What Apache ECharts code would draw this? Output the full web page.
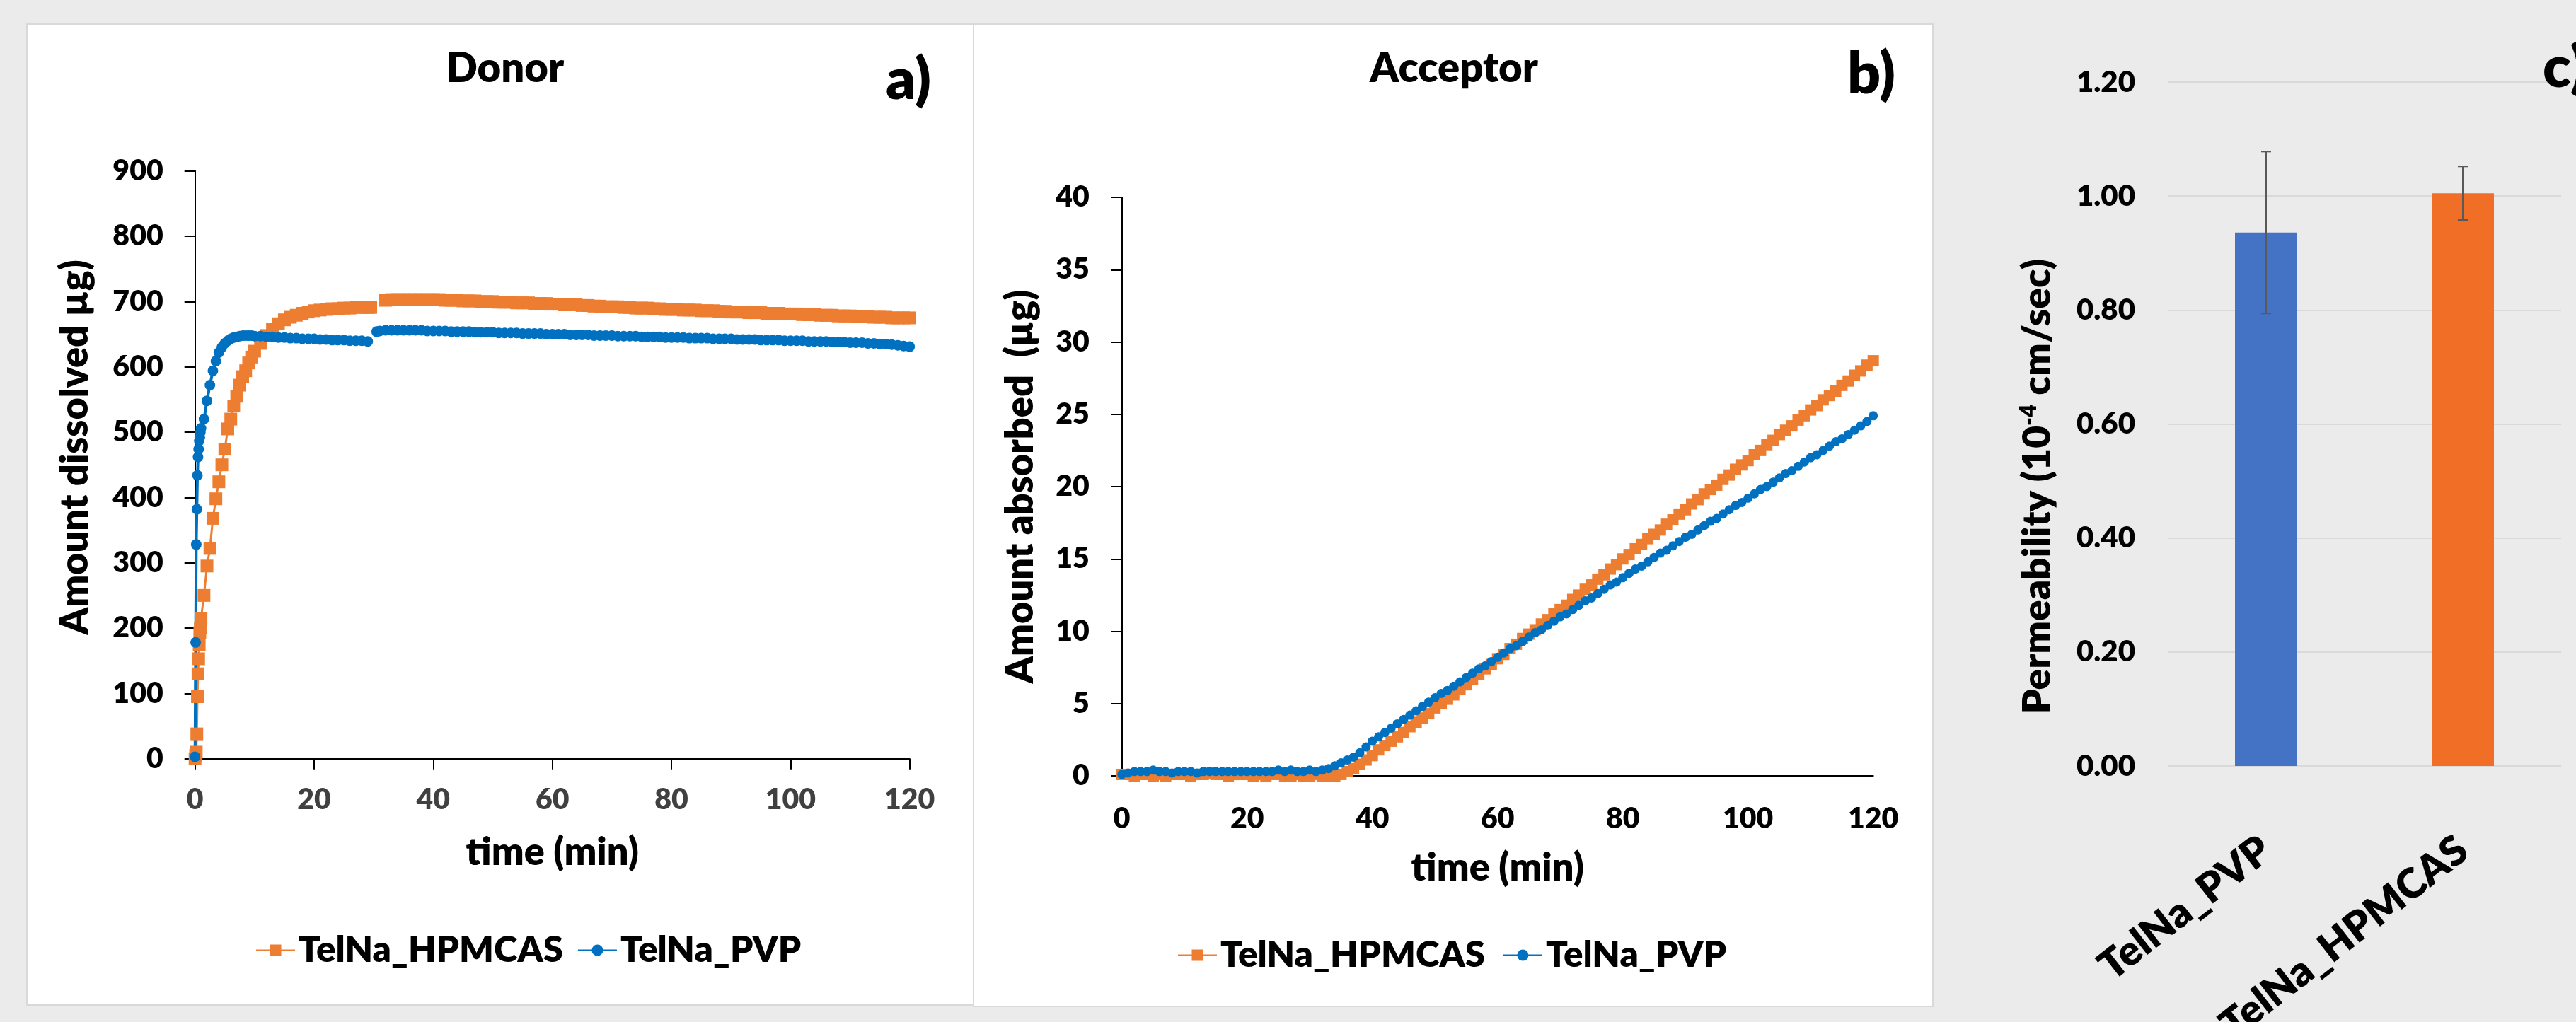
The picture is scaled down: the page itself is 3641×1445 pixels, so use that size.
<!DOCTYPE html>
<html><head><meta charset="utf-8">
<script src="https://cdn.jsdelivr.net/npm/echarts@6/dist/echarts.min.js"></script>
<style>
html,body{margin:0;padding:0;background:#ebebeb;}
#wrap{position:relative;width:3641px;height:1445px;overflow:hidden;background:#ebebeb;}
.panel{position:absolute;background:#fff;border:2px solid #d9d9d9;box-sizing:border-box;}
#chart{position:absolute;left:0;top:0;width:3641px;height:1445px;}
</style></head><body>
<div id="wrap">
<div class="panel" style="left:37px;top:33px;width:1340px;height:1389px;"></div>
<div class="panel" style="left:1375px;top:33px;width:1358px;height:1391px;"></div>
<div id="chart"></div>
</div>
<script>
// ---------- Panel a: Donor ----------
const donorTime = [0,0.1,0.2,0.3,0.4,0.5,0.6,0.7,0.8,0.9,1,
1.5,2,2.5,3,3.5,4,4.5,5,5.5,6,6.5,7,7.5,8,8.5,9,9.5,10,
11,12,13,14,15,16,17,18,19,20,21,22,23,24,25,26,27,28,29,
29.5,30.5,31,
32,33,34,35,36,37,38,39,40,41,42,43,44,45,46,47,48,49,50,51,52,53,54,55,56,57,58,59,60,61,62,63,64,65,66,67,68,69,70,71,72,73,74,75,76,77,78,79,80,81,82,83,84,85,86,87,88,89,90,91,92,93,94,95,96,97,98,99,100,101,102,103,104,105,106,107,108,109,110,111,112,113,114,115,116,117,118,119,120];
const donorHPMCAS = [0,5,10,38,95,130,153,175,193,200,215,
250,295,322,368,398,424,450,474,505,520,540,555,572,585,594,606,615,624,
636,648,658,666,672,676,679,682,684,686,687,688,689,689,690,690,691,691,691,
691,null,null,
702,703,703,703,703,703,703,703,703,703,
702,702,702,701,701,701,700,700,700,699,
699,699,698,698,698,697,697,697,696,696,
695,695,695,694,694,693,693,692,692,692,
691,691,690,690,690,689,689,688,688,688,
687,687,687,686,686,686,685,685,684,684,
684,683,683,683,682,682,682,681,681,681,
680,680,680,679,679,679,678,678,678,677,
677,677,676,676,676,675,675,675,675];
const donorPVP = [3,178,328,382,434,462,474,487,492,500,506,
520,548,572,594,609,622,630,636,640,643,645,646,647,648,648,648,648,647,
647,646,646,645,645,644,644,643,643,643,642,642,641,641,641,640,640,640,639,
null,654,655,
656,656,656,656,656,656,656,655,655,655,
655,654,654,654,654,653,653,653,653,652,
652,652,652,651,651,651,651,650,650,650,
650,649,649,649,649,648,648,648,648,647,
647,647,647,646,646,646,646,645,645,645,
645,644,644,644,644,643,643,643,643,642,
642,642,642,641,641,641,641,640,640,640,
640,639,639,639,639,638,638,638,637,637,
637,636,636,635,635,634,633,632,631];

// ---------- Panel b: Acceptor ----------
const accTime = [0,1,2,3,4,5,6,7,8,9,10,11,12,13,14,15,16,17,18,19,20,21,22,23,24,25,26,27,28,29,30,31,32,33,34,35,36,37,38,39,40,41,42,43,44,45,46,47,48,49,50,51,52,53,54,55,56,57,58,59,60,61,62,63,64,65,66,67,68,69,70,71,72,73,74,75,76,77,78,79,80,81,82,83,84,85,86,87,88,89,90,91,92,93,94,95,96,97,98,99,100,101,102,103,104,105,106,107,108,109,110,111,112,113,114,115,116,117,118,119,120];
const accHPMCAS = [0.1,0.1,0.0,0.1,0.1,0.0,0.1,0.0,0.1,0.1,
0.1,0.0,0.1,0.1,0.2,0.1,0.1,0.0,0.1,0.1,
0.1,0.0,0.1,0.0,0.1,0.1,0.0,0.0,0.1,0.0,
0.0,0.1,0.0,0.0,0.0,0.1,0.3,0.5,0.8,1.1,
1.4,1.8,2.1,2.4,2.7,3.0,3.4,3.7,4.0,4.3,
4.7,5.0,5.3,5.6,6.0,6.3,6.7,7.0,7.4,7.7,
8.1,8.4,8.8,9.1,9.5,9.8,10.1,10.5,10.8,11.2,
11.5,11.8,12.2,12.5,12.9,13.2,13.6,13.9,14.3,14.6,
15.0,15.3,15.7,16.0,16.4,16.7,17.0,17.4,17.7,18.1,
18.4,18.8,19.1,19.5,19.8,20.1,20.5,20.8,21.2,21.5,
21.8,22.2,22.5,22.9,23.2,23.6,23.9,24.2,24.6,24.9,
25.3,25.6,26.0,26.3,26.6,27.0,27.3,27.7,28.0,28.4,
28.7];
const accPVP = [0.1,0.2,0.3,0.3,0.3,0.4,0.3,0.3,0.2,0.3,
0.3,0.3,0.2,0.3,0.3,0.3,0.3,0.3,0.3,0.3,
0.3,0.3,0.3,0.3,0.3,0.4,0.3,0.4,0.3,0.3,
0.4,0.3,0.4,0.5,0.7,0.9,1.1,1.3,1.6,2.0,
2.4,2.7,3.0,3.3,3.6,3.9,4.2,4.5,4.8,5.1,
5.4,5.7,5.9,6.2,6.5,6.8,7.1,7.4,7.6,7.9,
8.2,8.5,8.8,9.0,9.3,9.6,9.9,10.1,10.4,10.7,
11.0,11.2,11.5,11.8,12.1,12.3,12.6,12.9,13.2,13.4,
13.7,14.0,14.3,14.5,14.8,15.1,15.4,15.6,15.9,16.2,
16.5,16.7,17.0,17.3,17.6,17.8,18.1,18.4,18.7,18.9,
19.2,19.5,19.8,20.0,20.3,20.6,20.9,21.1,21.4,21.7,
22.0,22.2,22.5,22.8,23.1,23.3,23.6,23.9,24.2,24.5,
24.9];

// ---------- Panel c: Permeability ----------
const permCategories = ['TelNa_PVP', 'TelNa_HPMCAS'];
const permValues = [0.936, 1.005];
const permErrors = [0.142, 0.047];
const permColors = ['#4472C4', '#F06E26'];

const seriesNames = ['TelNa_HPMCAS', 'TelNa_PVP'];
const orange = '#ED7D31', blue = '#0070C0';
const FONT = 'Lato';
const W = 800;

function pairs(t, v) { return t.map((x, i) => [x, v[i] === null ? null : v[i]]); }

const chart = echarts.init(document.getElementById('chart'), null, {renderer: 'canvas'});

const boldTxt = (size, color) => ({fontFamily: FONT, fontWeight: W, fontSize: size, color: color || '#000'});

const option = {
  backgroundColor: 'transparent',
  animation: false,
  title: [
    {text: 'Donor', left: 714, top: 97, textAlign: 'center', textVerticalAlign: 'middle', padding: 0, textStyle: boldTxt(58)},
    {text: 'a)', left: 1284, top: 114, textAlign: 'center', textVerticalAlign: 'middle', padding: 0, textStyle: boldTxt(82)},
    {text: 'Acceptor', left: 2055, top: 97, textAlign: 'center', textVerticalAlign: 'middle', padding: 0, textStyle: boldTxt(58)},
    {text: 'b)', left: 2645, top: 106, textAlign: 'center', textVerticalAlign: 'middle', padding: 0, textStyle: boldTxt(82)},
    {text: 'c)', left: 3594, top: 97, textAlign: 'left', textVerticalAlign: 'middle', padding: 0, textStyle: boldTxt(82)}
  ],
  legend: [
    {data: seriesNames, left: 361, top: 1318, itemWidth: 55, itemHeight: 20, itemGap: 20, padding: 0,
     textStyle: boldTxt(51)},
    {data: seriesNames, left: 1664, top: 1325, itemWidth: 55, itemHeight: 20, itemGap: 25, padding: 0,
     textStyle: boldTxt(51)}
  ],
  grid: [
    {left: 275.7, top: 241.7, width: 1010, height: 831, containLabel: false, outerBoundsMode: 'none'},
    {left: 1585.7, top: 279, width: 1062, height: 818, containLabel: false, outerBoundsMode: 'none'},
    {left: 3064, top: 116, width: 556, height: 967, containLabel: false, outerBoundsMode: 'none'}
  ],
  xAxis: [
    {gridIndex: 0, type: 'value', min: 0, max: 120, interval: 20,
     name: 'time (min)', nameLocation: 'middle', nameGap: 106, nameTextStyle: boldTxt(54),
     axisLine: {show: true, onZero: false, lineStyle: {color: '#000', width: 2}},
     axisTick: {show: true, inside: false, length: 15, lineStyle: {color: '#000', width: 2}},
     axisLabel: Object.assign({margin: 38}, boldTxt(41, '#404040')),
     splitLine: {show: false}},
    {gridIndex: 1, type: 'value', min: 0, max: 120, interval: 20,
     name: 'time (min)', nameLocation: 'middle', nameGap: 104, nameTextStyle: boldTxt(54),
     axisLine: {show: true, onZero: false, lineStyle: {color: '#000', width: 2}},
     axisTick: {show: false},
     axisLabel: Object.assign({margin: 40}, boldTxt(41, '#000')),
     splitLine: {show: false}},
    {gridIndex: 2, type: 'category', data: permCategories,
     axisLine: {show: false}, axisTick: {show: false},
     axisLabel: Object.assign({margin: 112, rotate: 38, interval: 0}, boldTxt(58, '#000')),
     splitLine: {show: false}}
  ],
  yAxis: [
    {gridIndex: 0, type: 'value', min: 0, max: 900, interval: 100,
     name: 'Amount dissolved µg)', nameLocation: 'middle', nameGap: 142,
     nameTextStyle: Object.assign({padding: [0, 0, 0, 50]}, boldTxt(54)),
     axisLine: {show: true, onZero: false, lineStyle: {color: '#000', width: 2}},
     axisTick: {show: true, length: 15, lineStyle: {color: '#000', width: 2}},
     axisLabel: Object.assign({margin: 45}, boldTxt(41, '#000')),
     splitLine: {show: false}},
    {gridIndex: 1, type: 'value', min: 0, max: 40, interval: 5,
     name: 'Amount absorbed  (µg)', nameLocation: 'middle', nameGap: 116, nameTextStyle: boldTxt(54),
     axisLine: {show: true, onZero: false, lineStyle: {color: '#000', width: 2}},
     axisTick: {show: true, length: 15, lineStyle: {color: '#000', width: 2}},
     axisLabel: Object.assign({margin: 46}, boldTxt(41, '#000')),
     splitLine: {show: false}},
    {gridIndex: 2, type: 'value', min: 0, max: 1.2, interval: 0.2,
     name: '{n|Permeability (10}{s|-4}{n| cm/sec)}', nameLocation: 'middle', nameGap: 156,
     nameTextStyle: {padding: [0, 176, 0, 0], rich: {
       n: {fontFamily: FONT, fontWeight: W, fontSize: 55, color: '#000'},
       s: {fontFamily: FONT, fontWeight: W, fontSize: 32, color: '#000', verticalAlign: 'bottom', padding: [0, 0, 24, 0]}
     }},
     axisLine: {show: false}, axisTick: {show: false},
     axisLabel: Object.assign({margin: 46, formatter: v => v.toFixed(2)}, boldTxt(42, '#000')),
     splitLine: {show: true, lineStyle: {color: '#d9d9d9', width: 2}}}
  ],
  series: [
    {name: 'TelNa_HPMCAS', type: 'line', xAxisIndex: 0, yAxisIndex: 0, data: pairs(donorTime, donorHPMCAS),
     symbol: 'rect', symbolSize: 18, connectNulls: false,
     itemStyle: {color: orange}, lineStyle: {color: orange, width: 3}},
    {name: 'TelNa_PVP', type: 'line', xAxisIndex: 0, yAxisIndex: 0, data: pairs(donorTime, donorPVP),
     symbol: 'circle', symbolSize: 15, connectNulls: false,
     itemStyle: {color: blue}, lineStyle: {color: blue, width: 4}},
    {name: 'TelNa_HPMCAS', type: 'line', xAxisIndex: 1, yAxisIndex: 1, data: pairs(accTime, accHPMCAS),
     symbol: 'rect', symbolSize: 16,
     itemStyle: {color: orange}, lineStyle: {color: orange, width: 5}},
    {name: 'TelNa_PVP', type: 'line', xAxisIndex: 1, yAxisIndex: 1, data: pairs(accTime, accPVP),
     symbol: 'circle', symbolSize: 13,
     itemStyle: {color: blue}, lineStyle: {color: blue, width: 5}},
    {name: 'Permeability', type: 'bar', xAxisIndex: 2, yAxisIndex: 2, barWidth: 88,
     data: permValues.map((v, i) => ({value: v, itemStyle: {color: permColors[i]}}))},
    {name: 'err', type: 'custom', xAxisIndex: 2, yAxisIndex: 2, z: 10,
     data: permValues.map((v, i) => [i, v - permErrors[i], v + permErrors[i]]),
     renderItem: function (params, api) {
       const lo = api.coord([api.value(0), api.value(1)]);
       const hi = api.coord([api.value(0), api.value(2)]);
       const cw = 7;
       const st = {stroke: '#595959', lineWidth: 2};
       return {type: 'group', children: [
         {type: 'line', shape: {x1: hi[0], y1: hi[1], x2: lo[0], y2: lo[1]}, style: st},
         {type: 'line', shape: {x1: hi[0] - cw, y1: hi[1], x2: hi[0] + cw, y2: hi[1]}, style: st},
         {type: 'line', shape: {x1: lo[0] - cw, y1: lo[1], x2: lo[0] + cw, y2: lo[1]}, style: st}
       ]};
     }}
  ]
};
chart.setOption(option);
</script>
</body></html>
